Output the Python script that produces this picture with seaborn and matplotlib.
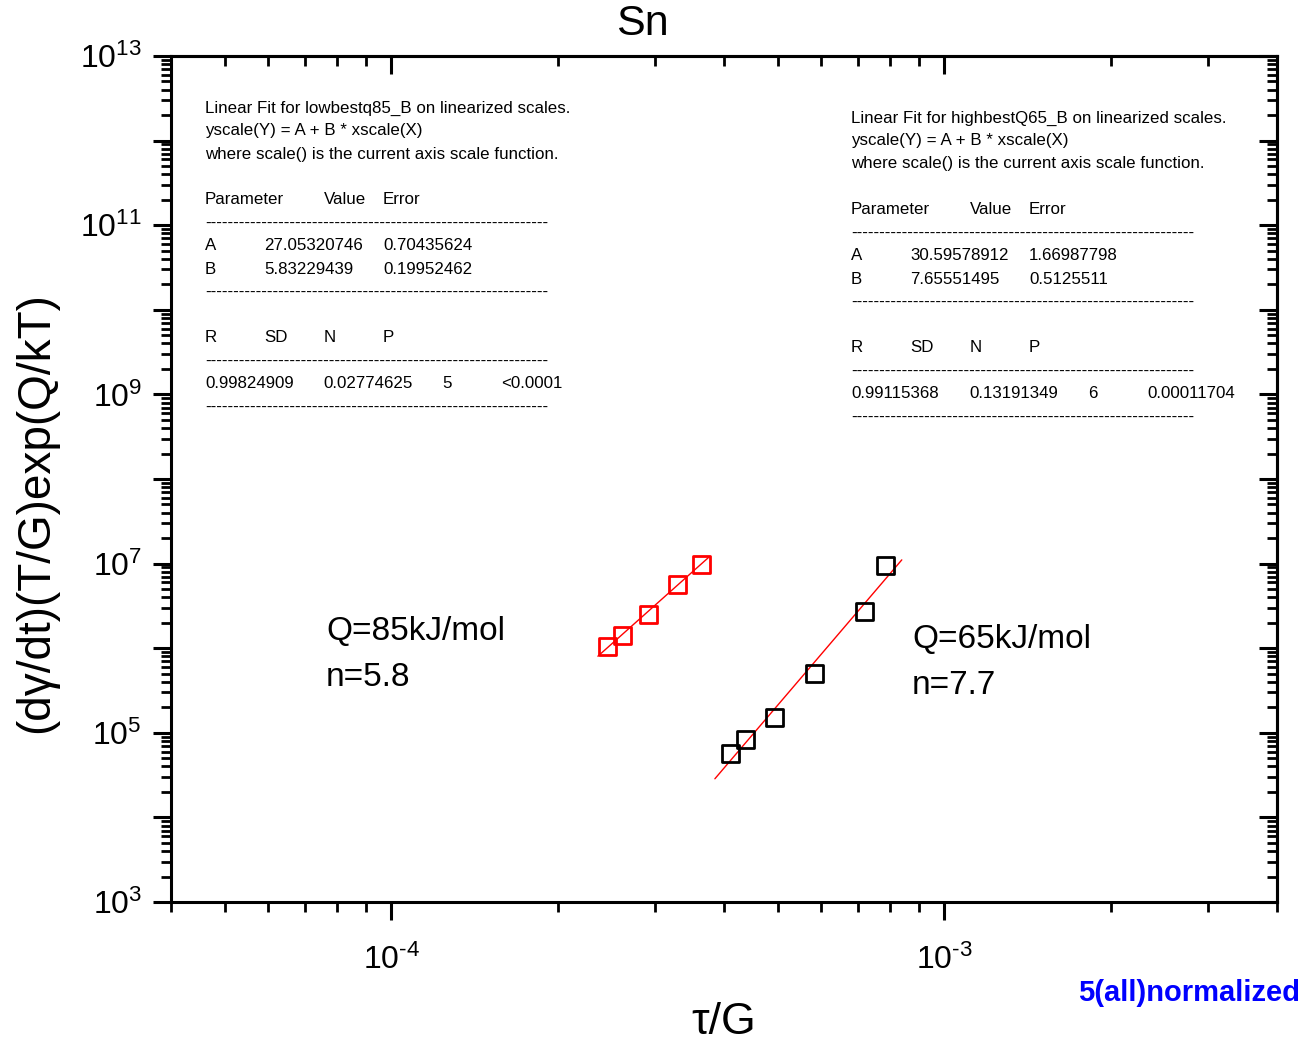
import numpy as np
import pandas as pd
import seaborn as sns
import matplotlib.pyplot as plt
from matplotlib.ticker import LogLocator, FuncFormatter, NullFormatter

# data (tau/G vs normalized strain rate)
low_x = [2.460e-4, 2.618e-4, 2.917e-4, 3.292e-4, 3.638e-4]
low_y = [1.054e6, 1.42e6, 2.47e6, 5.69e6, 9.8e6]
high_x = [4.104e-4, 4.368e-4, 4.928e-4, 5.821e-4, 7.190e-4, 7.847e-4]
high_y = [5.67e4, 8.38e4, 1.50e5, 5.01e5, 2.75e6, 9.55e6]

# linear fits on log-log scales: log10(Y) = A + B*log10(X)
low_fit = (27.05320746, 5.83229439)
high_fit = (30.59578912, 7.65551495)
low_fit_range = [2.366e-4, 3.755e-4]
high_fit_range = [3.851e-4, 8.386e-4]

low_report = [
    "Linear Fit for lowbestq85_B on linearized scales.",
    "yscale(Y) = A + B * xscale(X)",
    "where scale() is the current axis scale function.",
    "",
    ["Parameter", "", "Value", "Error"],
    "-",
    ["A", "27.05320746", "", "0.70435624"],
    ["B", "5.83229439", "", "0.19952462"],
    "-",
    "",
    ["R", "SD", "N", "P"],
    "-",
    ["0.99824909", "", "0.02774625", "", "5", "<0.0001"],
    "-",
]
high_report = [
    "Linear Fit for highbestQ65_B on linearized scales.",
    "yscale(Y) = A + B * xscale(X)",
    "where scale() is the current axis scale function.",
    "",
    ["Parameter", "", "Value", "Error"],
    "-",
    ["A", "30.59578912", "", "1.66987798"],
    ["B", "7.65551495", "", "0.5125511"],
    "-",
    "",
    ["R", "SD", "N", "P"],
    "-",
    ["0.99115368", "", "0.13191349", "", "6", "0.00011704"],
    "-",
]

sns.set_style("ticks")
plt.rcParams['font.family'] = ['Liberation Sans', 'DejaVu Sans']
plt.rcParams['mathtext.fontset'] = 'custom'
plt.rcParams['mathtext.rm'] = 'Liberation Sans'
plt.rcParams['mathtext.it'] = 'Liberation Sans'
for k in ['text.color', 'axes.labelcolor', 'xtick.color', 'ytick.color', 'axes.edgecolor']:
    plt.rcParams[k] = 'black'

W, H = 1306, 1043
fig = plt.figure(figsize=(W / 100, H / 100), dpi=100)
ax = fig.add_axes([171 / W, 1 - 902 / H, 1106 / W, 846 / H])


def fit_line(fit, xr):
    xs = np.array(xr)
    return pd.DataFrame({"x": xs, "y": 10 ** (fit[0] + fit[1] * np.log10(xs))})


lo = fit_line(low_fit, low_fit_range)
hi = fit_line(high_fit, high_fit_range)
sns.lineplot(data=lo, x="x", y="y", color="red", linewidth=1.0, ax=ax)
sns.lineplot(data=hi, x="x", y="y", color="red", linewidth=1.0, ax=ax)

sns.scatterplot(x=low_x, y=low_y, marker="s", s=150, facecolor="none",
                edgecolor="red", linewidth=2.0, ax=ax, zorder=3)
sns.scatterplot(x=high_x, y=high_y, marker="s", s=150, facecolor="none",
                edgecolor="black", linewidth=2.0, ax=ax, zorder=3)

ax.set_xscale("log")
ax.set_yscale("log")
ax.set_xlim(4e-5, 4e-3)
ax.set_ylim(1e3, 1e13)
ax.set_xlabel("")

for sp in ax.spines.values():
    sp.set_linewidth(2.2)
    sp.set_visible(True)


def pow_label(v):
    return r"$10^{\text{%d}}$" % round(np.log10(v))


ax.yaxis.set_major_locator(LogLocator(base=10, numticks=20))
ax.yaxis.set_minor_locator(LogLocator(base=10, subs=np.arange(2, 10), numticks=20))
ax.yaxis.set_major_formatter(FuncFormatter(
    lambda v, p: pow_label(v) if round(np.log10(v)) % 2 == 1 else ""))
ax.yaxis.set_minor_formatter(NullFormatter())
ax.xaxis.set_major_formatter(FuncFormatter(lambda v, p: pow_label(v)))
ax.xaxis.set_minor_formatter(NullFormatter())

ax.tick_params(which="major", direction="out", length=13, width=2.2, labelsize=23,
               top=False, right=False)
ax.tick_params(which="minor", direction="out", length=7.5, width=2.0, top=False, right=False)
ax.tick_params(axis="x", which="major", pad=18)
ax.tick_params(axis="y", which="major", pad=8)

secx = ax.secondary_xaxis("top")
secx.tick_params(which="major", direction="in", length=13, width=2.2)
secx.tick_params(which="minor", direction="in", length=7.5, width=2.0)
secx.xaxis.set_major_formatter(NullFormatter())
secx.xaxis.set_minor_formatter(NullFormatter())
secx.spines["top"].set_linewidth(2.2)

secy = ax.secondary_yaxis("right")
secy.yaxis.set_major_locator(LogLocator(base=10, numticks=20))
secy.yaxis.set_minor_locator(LogLocator(base=10, subs=np.arange(2, 10), numticks=20))
secy.tick_params(which="major", direction="in", length=13, width=2.2)
secy.tick_params(which="minor", direction="in", length=7.5, width=2.0)
secy.yaxis.set_major_formatter(NullFormatter())
secy.yaxis.set_minor_formatter(NullFormatter())
secy.spines["right"].set_linewidth(2.2)

ax.set_ylabel("(dγ/dt)(T/G)exp(Q/kT)", fontsize=33)
ax.yaxis.set_label_coords(-0.102, 0.46)
fig.text(724 / W, 1 - 1022 / H, "τ/G", fontsize=32, ha="center", va="center")
fig.text(642 / W, 1 - 24 / H, "Sn", fontsize=31, ha="center", va="center")


def report(lines, x0, y0):
    step = 23
    tab = 59.3
    for i, ln in enumerate(lines):
        y = 1 - (y0 + i * step) / H
        if ln == "-":
            fig.text(x0 / W, y, "-" * 61, fontsize=12.2, va="center", ha="left")
        elif isinstance(ln, list):
            for j, cell in enumerate(ln):
                if cell:
                    fig.text((x0 + j * tab) / W, y, cell, fontsize=12.2, va="center", ha="left")
        elif ln:
            fig.text(x0 / W, y, ln, fontsize=12.2, va="center", ha="left")


report(low_report, 205, 108)
report(high_report, 851, 118)

fig.text(326 / W, 1 - 631 / H, "Q=85kJ/mol", fontsize=24, va="center", ha="left")
fig.text(326 / W, 1 - 678 / H, "n=5.8", fontsize=24, va="center", ha="left")
fig.text(912 / W, 1 - 639 / H, "Q=65kJ/mol", fontsize=24, va="center", ha="left")
fig.text(912 / W, 1 - 686 / H, "n=7.7", fontsize=24, va="center", ha="left")
fig.text(1300 / W, 1 - 993 / H, "5(all)normalized", fontsize=21, fontweight="bold",
         color="#0000ff", va="center", ha="right")

fig.savefig("out.png", dpi=100)
